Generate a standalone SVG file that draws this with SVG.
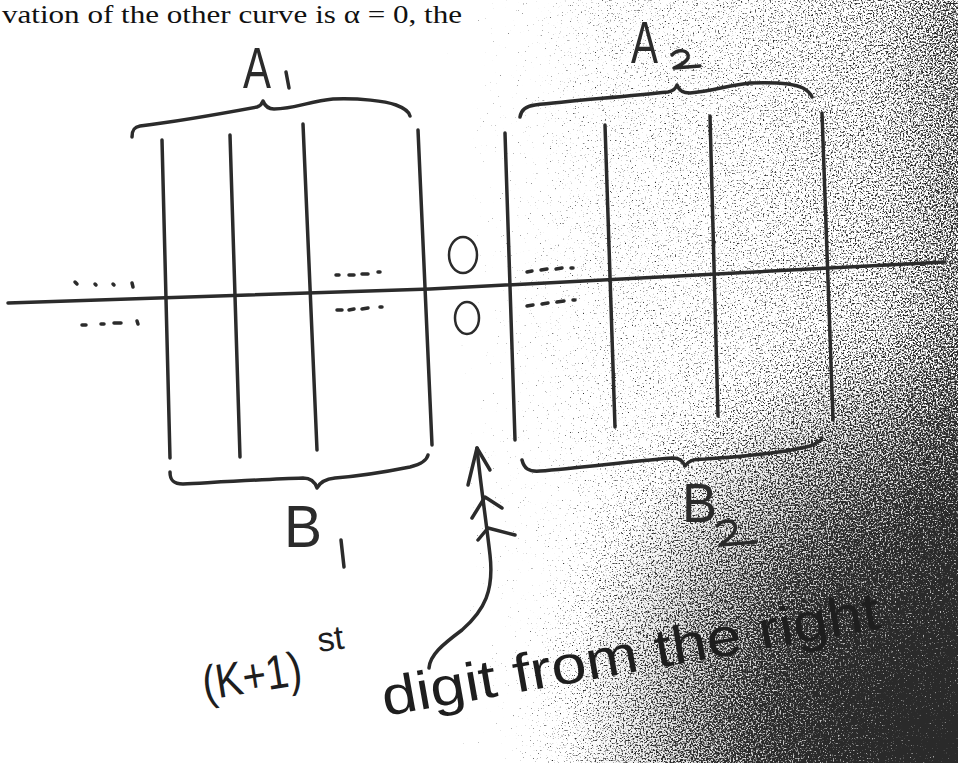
<svg xmlns="http://www.w3.org/2000/svg" width="958" height="763" viewBox="0 0 958 763">
<defs>
  <linearGradient id="shadeH" gradientUnits="userSpaceOnUse" x1="380" y1="0" x2="958" y2="0">
    <stop offset="0" stop-color="#000" stop-opacity="0"/>
    <stop offset="0.17" stop-color="#000" stop-opacity="0.25"/>
    <stop offset="0.38" stop-color="#000" stop-opacity="0.38"/>
    <stop offset="0.64" stop-color="#000" stop-opacity="0.45"/>
    <stop offset="0.87" stop-color="#000" stop-opacity="0.54"/>
    <stop offset="1" stop-color="#000" stop-opacity="0.64"/>
  </linearGradient>
  <radialGradient id="shadeR" gradientUnits="userSpaceOnUse" cx="940" cy="740" r="430">
    <stop offset="0" stop-color="#000" stop-opacity="0.85"/>
    <stop offset="0.45" stop-color="#000" stop-opacity="0.5"/>
    <stop offset="1" stop-color="#000" stop-opacity="0"/>
  </radialGradient>
  <radialGradient id="soft" gradientUnits="userSpaceOnUse" cx="930" cy="720" r="360">
    <stop offset="0" stop-color="#444" stop-opacity="0.45"/>
    <stop offset="1" stop-color="#444" stop-opacity="0"/>
  </radialGradient>
  <filter id="speck" filterUnits="userSpaceOnUse" x="0" y="0" width="958" height="763" color-interpolation-filters="sRGB">
    <feTurbulence type="fractalNoise" baseFrequency="0.6" numOctaves="2" seed="5" result="t"/>
    <feColorMatrix in="t" type="matrix" values="0 0 0 0 0  0 0 0 0 0  0 0 0 0 0  1 0 0 0 0" result="n"/>
    <feComposite in="SourceAlpha" in2="n" operator="arithmetic" k1="0" k2="5" k3="5" k4="-5.2" result="m"/>
    <feFlood flood-color="#2a2a2a" result="f"/>
    <feComposite in="f" in2="m" operator="in"/>
  </filter>
  <style>
    .ink { fill: none; stroke: #2b2b2b; stroke-width: 3.5; stroke-linecap: round; stroke-linejoin: round; }
    .thin { fill: none; stroke: #2b2b2b; stroke-width: 2.5; stroke-linecap: round; }
    .dots { fill: none; stroke: #2b2b2b; stroke-width: 3.5; stroke-linecap: round; }
    .lbl { font-family: "Liberation Sans", "DejaVu Sans", sans-serif; fill: #2b2b2b; }
    .hand { font-family: "Liberation Sans", "DejaVu Sans", sans-serif; fill: #1e1e1e; }
    .print { font-family: "Liberation Serif", "DejaVu Serif", serif; fill: #111; }
  </style>
</defs>

<g id="background">
  <rect x="0" y="0" width="958" height="763" fill="#fff"/>
  <rect x="0" y="0" width="958" height="763" fill="url(#soft)"/>
  <g filter="url(#speck)">
    <rect x="0" y="0" width="958" height="763" fill="url(#shadeH)"/>
    <rect x="0" y="0" width="958" height="763" fill="url(#shadeR)"/>
  </g>
</g>

<g id="header-text">
  <text class="print" x="2" y="23" font-size="25" textLength="460" lengthAdjust="spacingAndGlyphs">vation of the other curve is α = 0, the</text>
</g>

<g id="axis">
  <path class="ink" d="M8,303 L430,289 L945,262"/>
</g>

<g id="columns-left">
  <path class="ink" d="M162,140 L170,458"/>
  <path class="ink" d="M230,135 L240,457"/>
  <path class="ink" d="M303,124 L317,450"/>
  <path class="ink" d="M418,130 L432,445"/>
</g>

<g id="columns-right">
  <path class="ink" d="M505,133 L515,440"/>
  <path class="ink" d="M605,125 L615,427"/>
  <path class="ink" d="M710,116 L718,416"/>
  <path class="ink" d="M822,113 L833,420"/>
</g>

<g id="brace-A1">
  <path class="ink" d="M132,137 C132,130 134,127 140,126 C180,121 230,112 257,107 C260,106 262,104 263,101 C265,106 268,109 274,109 C295,109 310,101 333,99 C360,98 385,101 396,105 C404,108 409,111 410,116"/>
  <text class="lbl" x="243" y="88" font-size="58" textLength="28" lengthAdjust="spacingAndGlyphs">A</text>
  <path class="ink" d="M286,72 L289,88"/>
</g>

<g id="brace-A2">
  <path class="ink" d="M520,117 C521,110 526,106 535,105 C570,101 620,97 668,92 C673,91 676,88 677,85 C679,90 682,93 690,93 C712,91 730,85 750,83 C775,82 795,84 803,88 C808,91 811,94 812,97"/>
  <text class="lbl" x="631" y="63" font-size="60" textLength="27" lengthAdjust="spacingAndGlyphs">A</text>
  <path class="ink" d="M672,55 C678,48 690,50 688,58 C686,63 678,66 674,68 L700,66"/>
</g>

<g id="brace-B1">
  <path class="ink" d="M170,472 C170,480 173,484 183,484 C220,482 270,479 303,478 C311,478 315,482 317,488 C320,482 325,479 335,478 C360,476 390,471 410,467 C422,464 427,460 428,455"/>
  <text class="lbl" x="284" y="547" font-size="60" textLength="38" lengthAdjust="spacingAndGlyphs">B</text>
  <path class="ink" d="M341,540 L344,567"/>
</g>

<g id="brace-B2">
  <path class="ink" d="M522,460 C524,468 528,472 540,471 C580,468 640,460 673,458 C680,458 683,461 685,466 C688,461 693,459 705,459 C740,457 790,452 810,446 C818,443 821,441 822,438"/>
  <text class="lbl" x="682" y="522" font-size="55" textLength="35" lengthAdjust="spacingAndGlyphs">B</text>
  <path class="ink" d="M717,526 C724,518 738,520 735,530 C733,537 724,542 720,545 L756,542"/>
</g>

<g id="zeros">
  <ellipse class="thin" cx="463" cy="255" rx="14" ry="18"/>
  <ellipse class="thin" cx="467" cy="318" rx="12" ry="16"/>
</g>

<g id="ellipsis-dots">
  <path class="dots" d="M75,282 L77,284 M95,284 L96,285 M113,284 L114,285 M132,283 L133,287"/>
  <path class="dots" d="M82,325 L86,325 M101,324 L104,324 M114,323 L121,323 M137,321 L138,324"/>
  <path class="dots" d="M336,275 L339,275 M349,275 L354,275 M362,274 L368,274 M378,272 L380,272"/>
  <path class="dots" d="M337,310 L342,310 M349,310 L354,309 M362,309 L368,308 M380,307 L382,307"/>
  <path class="dots" d="M527,272 L532,271 M541,270 L547,269 M556,269 L562,268 M571,268 L573,268"/>
  <path class="dots" d="M527,306 L533,305 M542,304 L548,303 M557,302 L564,301 M573,300 L575,300"/>
</g>

<g id="connectors">
  <path class="ink" d="M477,448 C480,480 486,520 490,555 C494,590 485,610 462,630 C442,645 430,655 429,668"/>
  <path class="ink" d="M468,485 L477,448 L490,470"/>
  <path class="ink" d="M472,518 L485,497 L502,508"/>
  <path class="ink" d="M478,540 L488,528 L515,535"/>
</g>

<g id="caption">
  <text class="hand" x="205" y="700" font-size="48" textLength="100" lengthAdjust="spacingAndGlyphs" transform="rotate(-9 205 700)">(K+1)</text>
  <text class="hand" x="319" y="652" font-size="34" transform="rotate(-8 319 652)">st</text>
  <text class="hand" x="385" y="716" font-size="54" textLength="505" lengthAdjust="spacingAndGlyphs" transform="rotate(-10 385 716)">digit from the right</text>
</g>
</svg>
